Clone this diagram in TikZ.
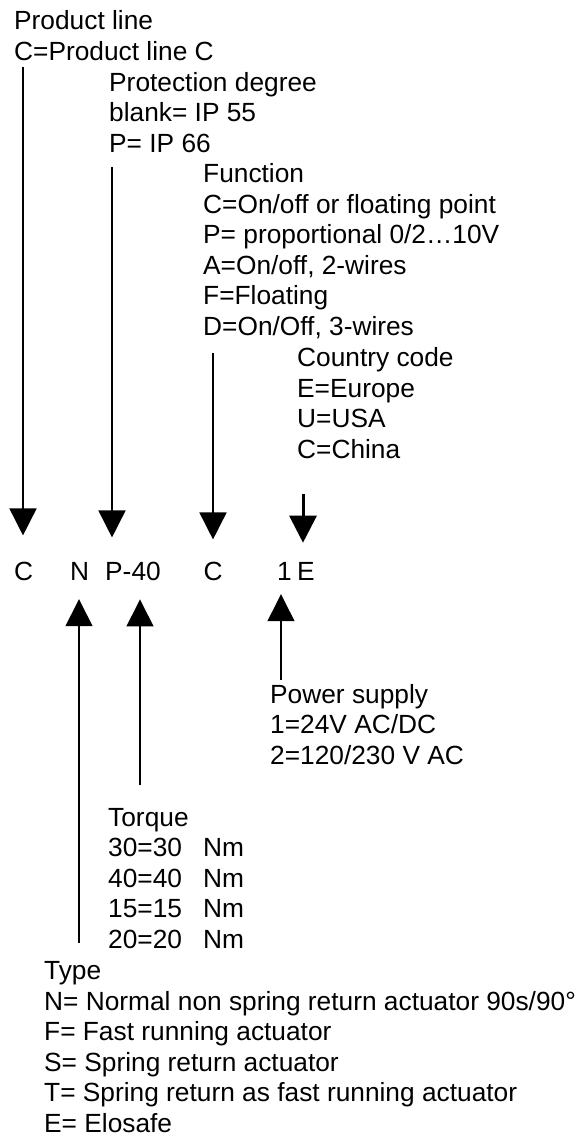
\documentclass[tikz,border=0pt]{standalone}
\usepackage{fontspec}
\setmainfont{Liberation Sans}
\usetikzlibrary{arrows.meta}
\begin{document}
\begin{tikzpicture}[x=1pt,y=-1pt,
  lbl/.style={anchor=base west, inner sep=0pt, align=left, font=\fontsize{26.3}{30.5}\selectfont},
  codech/.style={anchor=base, inner sep=0pt, font=\fontsize{26.3}{30.5}\selectfont},
  arr/.style={-{Triangle[length=27pt,width=27pt]}, line width=1.6pt}]
\useasboundingbox (0,0) rectangle (583,1136);
% text blocks (anchored at the baseline of their last line)
\node[lbl] (prod) at (14,60) {Product line\\C=Product line C};
\node[lbl] (prot) at (109,152) {Protection degree\\blank= IP 55\\P= IP 66};
\node[lbl] (func) at (203,335) {Function\\C=On/off or floating point\\P= proportional 0/2…10V\\A=On/off, 2-wires\\F=Floating\\D=On/Off, 3-wires};
\node[lbl] (ctry) at (297,458) {Country code\\E=Europe\\U=USA\\C=China};
\node[lbl] (pwr) at (270,764) {Power supply\\1=24V AC/DC\\2=120/230 V AC};
\node[lbl] (torq) at (108,948) {Torque\\\makebox[95pt][l]{30=30}Nm\\\makebox[95pt][l]{40=40}Nm\\\makebox[95pt][l]{15=15}Nm\\\makebox[95pt][l]{20=20}Nm};
\node[lbl] (type) at (44,1132) {Type\\N= Normal non spring return actuator 90s/90°\\F= Fast running actuator\\S= Spring return actuator\\T= Spring return as fast running actuator\\E= Elosafe};
% code letters
\node[codech] (cC) at (23.5,580) {C};
\node[codech] (cN) at (79.5,580) {N};
\node[codech, anchor=base west] (cP) at (105,580) {P-40};
\node[codech] (cF) at (213,580) {C};
\node[codech, anchor=base west] (c1) at (277,580) {1};
\node[codech, anchor=base west] (cE) at (297,580) {E};
% connector start points
\coordinate (s1) at (23,67);
\coordinate (s2) at (112,167);
\coordinate (s3) at (213,353);
\coordinate (s4) at (303,494);
\coordinate (sN) at (79,943);
\coordinate (sT) at (140,785);
\coordinate (sP) at (281,680);
% arrows
\draw[arr, shorten >=26pt] (s1) -- (s1 |- cC.north);
\draw[arr, shorten >=24pt] (s2) -- (s2 |- cP.north);
\draw[arr, shorten >=22pt] (s3) -- (s3 |- cF.north);
\draw[arr, line width=3pt, shorten >=19pt] (s4) -- (s4 |- cE.north);
\draw[arr, line width=1.5pt, shorten >=19pt] (sN) -- (sN |- cN.south);
\draw[arr, line width=1.5pt, shorten >=19pt] (sT) -- (sT |- cP.south);
\draw[arr, line width=1.3pt, shorten >=14pt] (sP) -- (sP |- c1.south);
\end{tikzpicture}
\end{document}
